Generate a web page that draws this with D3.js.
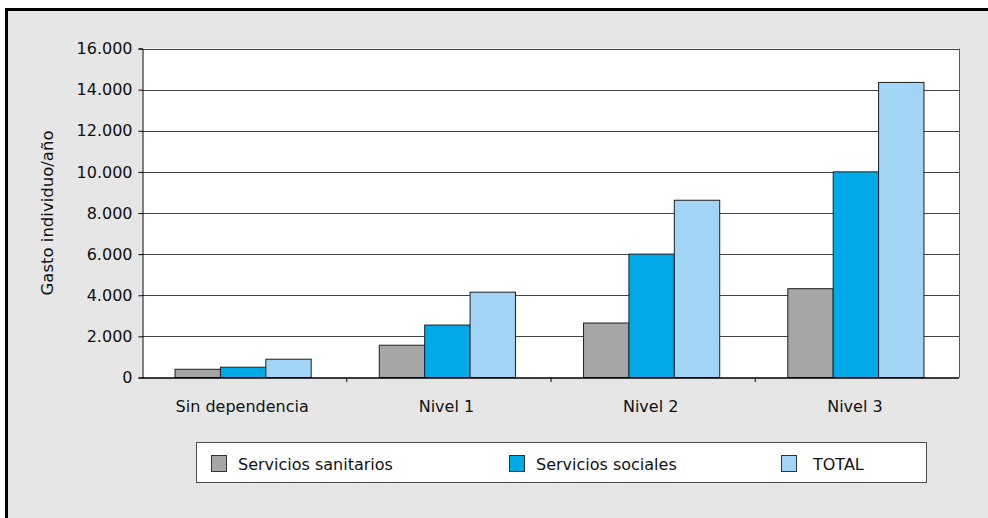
<!DOCTYPE html>
<html>
<head>
<meta charset="utf-8">
<script src="https://cdn.jsdelivr.net/npm/d3@7"></script>
<style>
  html, body { margin: 0; padding: 0; background: #ffffff; }
  svg { display: block; font-family: "DejaVu Sans", sans-serif; }
</style>
</head>
<body>
<svg id="chart" width="988" height="518"></svg>
<script>
// Gasto individual anual por nivel de dependencia
const categories = ["Sin dependencia", "Nivel 1", "Nivel 2", "Nivel 3"];
const seriesNames = ["Servicios sanitarios", "Servicios sociales", "TOTAL"];
const sanitarios = [400, 1570, 2650, 4320];
const sociales = [500, 2550, 6000, 10000];
const total = [890, 4150, 8620, 14350];
const yTicks = [0, 2000, 4000, 6000, 8000, 10000, 12000, 14000, 16000];
const colors = ["#a6a6a6", "#00aae9", "#a1d4f5"];

const seriesValues = [sanitarios, sociales, total];
const svg = d3.select("#chart");

const locale = d3.formatLocale({ decimal: ",", thousands: ".", grouping: [3], currency: ["", " €"] });
const fmt = locale.format(",d");

// outer frame
svg.append("rect").attr("x", 0).attr("y", 0).attr("width", 988).attr("height", 518).attr("fill", "#ffffff");
svg.append("rect").attr("x", 6.5).attr("y", 9.5).attr("width", 1000).attr("height", 530)
  .attr("fill", "#e6e6e6").attr("stroke", "#000").attr("stroke-width", 3);

const plot = { left: 142, right: 959, top: 48.5, bottom: 377.5 };

const x0 = d3.scaleBand().domain(categories).range([plot.left, plot.right]).padding(0);
const x1 = d3.scaleBand().domain(seriesNames).range([-1.5, x0.bandwidth() - 1.5])
  .paddingInner(0).paddingOuter(0.75);
const y = d3.scaleLinear().domain([0, 16000]).range([plot.bottom, plot.top]);

// plot area
svg.append("rect").attr("x", plot.left).attr("y", plot.top)
  .attr("width", plot.right - plot.left).attr("height", plot.bottom - plot.top)
  .attr("fill", "#ffffff");

// horizontal gridlines
svg.append("g").selectAll("line").data(yTicks.filter(d => d > 0)).join("line")
  .attr("x1", plot.left).attr("x2", plot.right)
  .attr("y1", d => Math.round(y(d)) + 0.5).attr("y2", d => Math.round(y(d)) + 0.5)
  .attr("stroke", "#444").attr("stroke-width", 1);

// right border of plot
svg.append("line").attr("x1", plot.right + 0.5).attr("x2", plot.right + 0.5)
  .attr("y1", plot.top).attr("y2", plot.bottom).attr("stroke", "#5a5a5a");

// bars
const groups = svg.append("g").selectAll("g").data(categories).join("g")
  .attr("transform", d => `translate(${x0(d)},0)`);
groups.selectAll("rect")
  .data((c, i) => seriesNames.map((s, j) => ({ s, j, v: seriesValues[j][i] })))
  .join("rect")
  .attr("x", d => x1(d.s) + 0.5)
  .attr("y", d => y(d.v))
  .attr("width", x1.bandwidth())
  .attr("height", d => y(0) - y(d.v))
  .attr("fill", d => colors[d.j])
  .attr("stroke", "#1f1f1f").attr("stroke-width", 1);

// y axis
const yAxis = d3.axisLeft(y).tickValues(yTicks).tickFormat(fmt).tickSize(4).tickPadding(6);
const gy = svg.append("g").attr("transform", `translate(${plot.left + 0.5},0)`).call(yAxis);
gy.select(".domain").attr("stroke", "#000");
gy.selectAll(".tick line").attr("stroke", "#000");
gy.selectAll(".tick text").attr("font-size", 16).attr("fill", "#111")
  .attr("font-family", "DejaVu Sans, sans-serif");

// x axis
const gx = svg.append("g").attr("transform", `translate(0,${plot.bottom + 0.5})`);
gx.append("line").attr("x1", plot.left).attr("x2", plot.right)
  .attr("stroke", "#000").attr("stroke-width", 1.5);
gx.selectAll("line.tk").data(categories.slice(1)).join("line").attr("class", "tk")
  .attr("x1", d => x0(d) + 0.5).attr("x2", d => x0(d) + 0.5)
  .attr("y1", 0).attr("y2", 4).attr("stroke", "#000");
gx.selectAll("text").data(categories).join("text")
  .attr("x", d => x0(d) + x0.bandwidth() / 2 - 2)
  .attr("y", 34)
  .attr("text-anchor", "middle").attr("font-size", 16).attr("fill", "#111")
  .text(d => d);

// y axis title
svg.append("text")
  .attr("transform", `translate(53,${(plot.top + plot.bottom) / 2}) rotate(-90)`)
  .attr("text-anchor", "middle").attr("font-size", 16.5).attr("fill", "#111")
  .text("Gasto individuo/año");

// legend
const legend = svg.append("g");
legend.append("rect").attr("x", 196.5).attr("y", 442.5).attr("width", 730).attr("height", 40)
  .attr("fill", "#ffffff").attr("stroke", "#4d4d4d").attr("stroke-width", 1);
const legendX = [211, 509, 781];
const items = legend.selectAll("g").data(seriesNames).join("g")
  .attr("transform", (d, i) => `translate(${legendX[i]},0)`);
items.append("rect").attr("x", 0.5).attr("y", 455.5).attr("width", 15).attr("height", 16)
  .attr("fill", (d, i) => colors[i]).attr("stroke", "#333");
items.append("text").attr("x", (d, i) => i === 2 ? 32 : 27).attr("y", 470)
  .attr("font-size", 16).attr("fill", "#111").text(d => d);
</script>
</body>
</html>
